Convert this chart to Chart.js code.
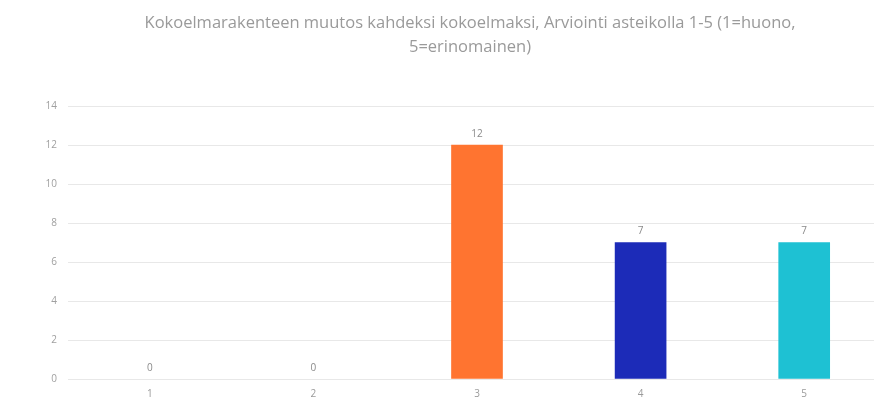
<!DOCTYPE html>
<html>
<head>
<meta charset="utf-8">
<script src="https://cdn.jsdelivr.net/npm/chart.js@4.4.1/dist/chart.umd.min.js"></script>
<style>
	html, body { margin: 0; padding: 0; background: #fff; overflow: hidden; }
	#wrap { width: 886px; height: 401px; position: relative; }
	#chart { display: block; }
	#title {
		position: absolute; left: 0; top: 10px; width: 940px;
		text-align: center; color: #9a9a9a;
		font: 16.5px/24px "Open Sans", sans-serif;
	}
</style>
</head>
<body>
<div id="wrap">
	<canvas id="chart" width="886" height="401"></canvas>
	<div id="title"></div>
</div>
<script>
const titleLines = ['Kokoelmarakenteen muutos kahdeksi kokoelmaksi, Arviointi asteikolla 1-5 (1=huono,', '5=erinomainen)'];
const categories = ['1', '2', '3', '4', '5'];
const values = [0, 0, 12, 7, 7];
const barColors = ['rgba(0,0,0,0)', 'rgba(0,0,0,0)', '#ff7430', '#1c2bb8', '#1ec1d3'];
const yTicks = [0, 2, 4, 6, 8, 10, 12, 14];

document.getElementById('title').innerHTML = titleLines.join('<br>');

// value labels above the bars
const valueLabels = {
	id: 'valueLabels',
	afterDatasetsDraw(chart) {
		const ctx = chart.ctx;
		const meta = chart.getDatasetMeta(0);
		ctx.save();
		ctx.font = '10px "Open Sans"';
		ctx.fillStyle = '#8a8a8a';
		ctx.textAlign = 'center';
		ctx.textBaseline = 'bottom';
		meta.data.forEach((bar, i) => {
			ctx.fillText(String(values[i]), bar.x, bar.y - 6);
		});
		ctx.restore();
	}
};

const ctx = document.getElementById('chart').getContext('2d');

new Chart(ctx, {
	type: 'bar',
	data: {
		labels: categories,
		datasets: [{
			data: values,
			backgroundColor: barColors,
			barThickness: 51
		}]
	},
	options: {
		responsive: false,
		animation: false,
		layout: { padding: { top: 106, bottom: -8, right: 0, left: 0 } },
		plugins: {
			legend: { display: false },
			tooltip: { enabled: false },
			title: { display: false }
		},
		scales: {
			x: {
				grid: { display: false, drawTicks: false },
				border: { display: false },
				ticks: {
					color: '#9a9a9a',
					font: { family: 'Open Sans', size: 10 },
					padding: 9
				}
			},
			y: {
				min: 0,
				max: 14,
				afterFit(scale) { scale.width = 68; },
				afterBuildTicks(scale) { scale.ticks = yTicks.map(v => ({ value: v })); },
				grid: { color: '#e8e8e8', drawTicks: false },
				border: { display: false },
				ticks: {
					color: '#a0a0a0',
					font: { family: 'Open Sans', size: 10 },
					padding: 11
				}
			}
		}
	},
	plugins: [valueLabels]
});
</script>
</body>
</html>
